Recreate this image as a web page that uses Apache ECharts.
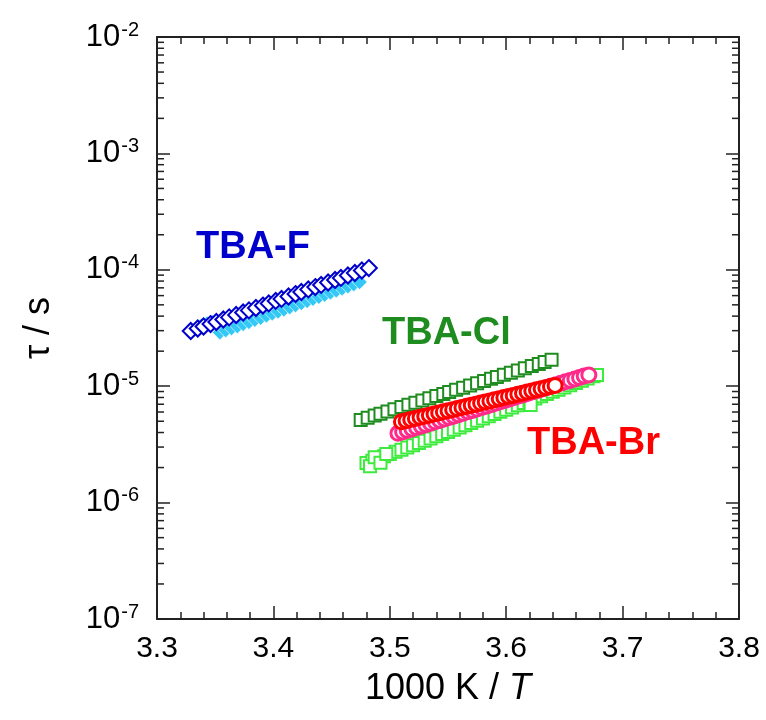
<!DOCTYPE html>
<html>
<head>
<meta charset="utf-8">
<script src="https://cdn.jsdelivr.net/npm/echarts@6/dist/echarts.min.js"></script>
<style>
  html, body { margin: 0; padding: 0; background: #fff; }
  #main { width: 766px; height: 720px; }
</style>
</head>
<body>
<div id="main"></div>
<script>
// axis ranges
const xMin = 3.3, xMax = 3.8;
const yMin = 1e-7, yMax = 1e-2;

// TBA-F (dark blue open diamonds), tau in microseconds
const fX = [3.329, 3.335, 3.340, 3.346, 3.351, 3.357, 3.362, 3.368, 3.374, 3.379, 3.385, 3.391, 3.396, 3.402,
            3.407, 3.413, 3.419, 3.424, 3.430, 3.436, 3.441, 3.447, 3.453, 3.458, 3.464, 3.470, 3.476, 3.482];
const fTau = [29.8, 31.3, 32.6, 34.2, 35.6, 37.4, 39.0, 40.9, 43.0, 44.8, 47.0, 49.3, 51.4, 54.0,
              56.2, 59.0, 61.9, 64.5, 67.8, 71.1, 74.1, 77.8, 81.7, 85.1, 89.3, 93.8, 98.6, 103.5];

// TBA-F second set (light blue)
const f2X = [3.338, 3.343, 3.348, 3.354, 3.359, 3.364, 3.369, 3.374, 3.379, 3.384, 3.389, 3.394, 3.399, 3.404,
             3.409, 3.414, 3.419, 3.424, 3.429, 3.434, 3.439, 3.444, 3.449, 3.454, 3.459, 3.464, 3.469, 3.474];
const f2Tau = [33.0, 34.5, 35.5, 29.0, 30.2, 31.5, 32.8, 34.2, 35.6, 37.2, 38.7, 40.4, 42.1, 43.9,
               45.7, 47.7, 49.7, 51.8, 54.0, 56.3, 58.6, 61.1, 63.7, 66.4, 69.2, 72.1, 75.2, 78.4];

// TBA-Cl (dark green open squares)
const clX = [3.475, 3.481, 3.487, 3.492, 3.498, 3.504, 3.510, 3.516, 3.522, 3.528, 3.534, 3.540, 3.546, 3.551, 3.557,
             3.563, 3.569, 3.575, 3.581, 3.587, 3.592, 3.598, 3.604, 3.610, 3.616, 3.622, 3.628, 3.633, 3.639];
const clTau = [5.13, 5.36, 5.60, 5.81, 6.07, 6.34, 6.62, 6.92, 7.22, 7.54, 7.88, 8.23, 8.59, 8.91, 9.31,
               9.72, 10.15, 10.60, 11.07, 11.56, 11.99, 12.52, 13.07, 13.65, 14.26, 14.89, 15.55, 16.12, 16.84];

// TBA-Cl second set (light green open squares)
const cl2X = [3.480, 3.485, 3.490, 3.495, 3.500, 3.505, 3.510, 3.515, 3.520, 3.525, 3.530, 3.535, 3.540, 3.545,
              3.550, 3.555, 3.560, 3.565, 3.570, 3.575, 3.580, 3.585, 3.590, 3.595, 3.600, 3.605, 3.610, 3.615,
              3.620, 3.625, 3.630, 3.635, 3.640, 3.645, 3.650, 3.655, 3.660, 3.665, 3.670, 3.675,
              3.483, 3.487, 3.492, 3.497, 3.621, 3.678];
const cl2Tau = [2.19, 2.29, 2.39, 2.50, 2.61, 2.73, 2.85, 2.98, 3.11, 3.25, 3.40, 3.55, 3.71, 3.88,
                4.05, 4.23, 4.42, 4.62, 4.83, 5.05, 5.27, 5.51, 5.76, 6.02, 6.29, 6.57, 6.87, 7.17,
                7.50, 7.83, 8.19, 8.55, 8.94, 9.34, 9.76, 10.20, 10.66, 11.14, 11.64, 12.17,
                2.05, 2.45, 2.20, 2.62, 6.90, 12.50];

// TBA-Br (red circles)
const brX = [3.510, 3.514, 3.518, 3.522, 3.526, 3.530, 3.534, 3.538, 3.542, 3.546, 3.550, 3.554, 3.558, 3.562,
             3.566, 3.570, 3.574, 3.578, 3.582, 3.586, 3.590, 3.594, 3.598, 3.602, 3.606, 3.610, 3.614, 3.618,
             3.622, 3.626, 3.630, 3.634, 3.638, 3.642];
const brTau = [4.95, 5.06, 5.17, 5.28, 5.40, 5.52, 5.64, 5.76, 5.89, 6.02, 6.15, 6.29, 6.42, 6.57,
               6.71, 6.86, 7.01, 7.16, 7.32, 7.48, 7.65, 7.81, 7.99, 8.16, 8.34, 8.53, 8.71, 8.90,
               9.10, 9.30, 9.51, 9.71, 9.93, 10.15];

// TBA-Br second set (pink circles)
const br2X = [3.507, 3.511, 3.515, 3.519, 3.523, 3.527, 3.531, 3.535, 3.539, 3.543, 3.547, 3.551, 3.555, 3.559,
              3.563, 3.567, 3.571, 3.575, 3.579, 3.583, 3.587, 3.591, 3.595, 3.599, 3.603, 3.607, 3.611, 3.615,
              3.619, 3.623, 3.627, 3.631, 3.635, 3.639, 3.643, 3.647, 3.651, 3.655, 3.659, 3.663, 3.667, 3.671];
const br2Tau = [3.94, 4.05, 4.17, 4.29, 4.41, 4.54, 4.67, 4.80, 4.94, 5.08, 5.23, 5.38, 5.53, 5.69,
                5.85, 6.02, 6.19, 6.37, 6.55, 6.74, 6.93, 7.13, 7.34, 7.55, 7.76, 7.99, 8.22, 8.45,
                8.69, 8.94, 9.20, 9.46, 9.74, 10.02, 10.30, 10.60, 10.90, 11.21, 11.54, 11.87, 12.21, 12.50];

const FONT = "'Liberation Sans', Arial, sans-serif";
const AX = '#222';

const pairs = (xs, ys) => xs.map((x, i) => [x, ys[i] * 1e-6]);

// minor log ticks 2..9 in each decade
const minorTicks = [];
for (let e = -7; e < -2; e++) {
    for (let m = 2; m <= 9; m++) minorTicks.push([xMin, m * Math.pow(10, e)]);
}

const chart = echarts.init(document.getElementById('main'), null, { renderer: 'canvas' });

const xCommon = {
    type: 'value', min: xMin, max: xMax, interval: 0.1,
    axisLine: { lineStyle: { color: AX, width: 2 } },
    axisTick: { inside: true, length: 13, lineStyle: { color: AX, width: 1.5 } },
    minorTick: { show: true, splitNumber: 5, length: 7, lineStyle: { color: AX, width: 1.5 } },
    splitLine: { show: false }
};
const yCommon = {
    type: 'log', logBase: 10, min: yMin, max: yMax,
    axisLine: { lineStyle: { color: AX, width: 2 } },
    axisTick: { inside: true, length: 13, lineStyle: { color: AX, width: 1.5 } },
    splitLine: { show: false }
};

function scatter(name, data, symbol, size, fill, border, bw) {
    return {
        name, type: 'scatter', data, symbol, symbolSize: size,
        itemStyle: { color: fill, borderColor: border, borderWidth: bw, opacity: 1 },
        emphasis: { disabled: true }
    };
}

const option = {
    animation: false,
    backgroundColor: '#fff',
    grid: { left: 157, right: 27, top: 37, bottom: 101 },
    xAxis: [
        Object.assign({}, xCommon, {
            position: 'bottom',
            name: '1000 K / {i|T}', nameLocation: 'middle', nameGap: 52,
            nameTextStyle: { fontFamily: FONT, fontSize: 36, color: '#000',
                rich: { i: { fontFamily: FONT, fontSize: 36, fontStyle: 'italic', color: '#000' } } },
            axisLabel: { fontFamily: FONT, fontSize: 30, color: '#000', margin: 15,
                formatter: v => v.toFixed(1) }
        }),
        Object.assign({}, xCommon, { position: 'top', axisLabel: { show: false } })
    ],
    yAxis: [
        Object.assign({}, yCommon, {
            position: 'left',
            name: 'τ / s', nameLocation: 'middle', nameGap: 100,
            nameTextStyle: { fontFamily: FONT, fontSize: 36, color: '#000' },
            axisLabel: {
                margin: 18, color: '#000',
                formatter: v => '{b|10}{e|' + Math.round(Math.log10(v)) + '}',
                rich: {
                    b: { fontFamily: FONT, fontSize: 31, color: '#000', lineHeight: 34 },
                    e: { fontFamily: FONT, fontSize: 20, color: '#000', verticalAlign: 'top', lineHeight: 34, padding: [0, 0, 12, 1] }
                }
            }
        }),
        Object.assign({}, yCommon, { position: 'right', axisLabel: { show: false } })
    ],
    graphic: [
        { type: 'text', left: 196, top: 229, style: { text: 'TBA-F', fill: '#0000CC', font: 'bold 38px ' + FONT } },
        { type: 'text', left: 382, top: 315, style: { text: 'TBA-Cl', fill: '#1E8C1E', font: 'bold 38px ' + FONT } },
        { type: 'text', left: 527, top: 425, style: { text: 'TBA-Br', fill: '#FF0000', font: 'bold 38px ' + FONT } }
    ],
    series: [
        scatter('TBA-Cl 2', pairs(cl2X, cl2Tau), 'rect', 12, '#fff', '#3CEB3C', 2),
        scatter('TBA-Cl', pairs(clX, clTau), 'rect', 12, '#fff', '#1E8C1E', 2),
        scatter('TBA-Br 2', pairs(br2X, br2Tau), 'circle', 14, '#fff', '#FF2A8A', 3),
        scatter('TBA-Br', pairs(brX, brTau), 'circle', 14, '#fff', '#FF0000', 3),
        scatter('TBA-F 2', pairs(f2X, f2Tau), 'diamond', 15, '#33C8F5', '#fff', 0.6),
        scatter('TBA-F', pairs(fX, fTau), 'diamond', 16, '#fff', '#0000CC', 2),
        {
            type: 'custom', name: 'minor', data: minorTicks, silent: true, clip: false,
            renderItem: (params, api) => {
                const cs = params.coordSys;
                const y = api.coord([api.value(0), api.value(1)])[1];
                const style = { stroke: AX, lineWidth: 1.5 };
                return {
                    type: 'group', children: [
                        { type: 'line', shape: { x1: cs.x, y1: y, x2: cs.x + 7, y2: y }, style },
                        { type: 'line', shape: { x1: cs.x + cs.width - 7, y1: y, x2: cs.x + cs.width, y2: y }, style }
                    ]
                };
            }
        }
    ]
};

chart.setOption(option);
</script>
</body>
</html>
